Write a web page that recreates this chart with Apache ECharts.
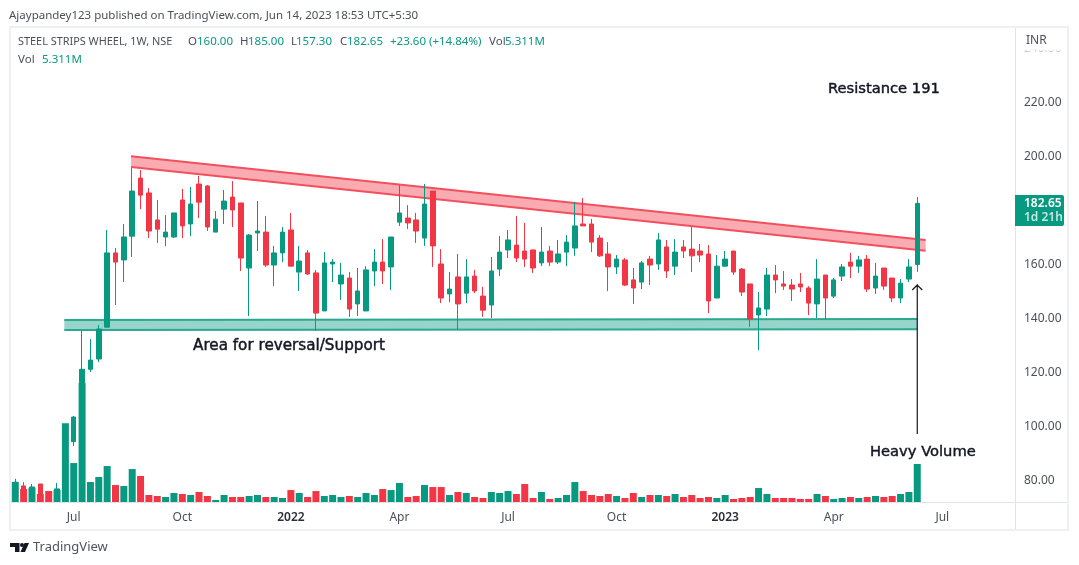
<!DOCTYPE html>
<html><head><meta charset="utf-8">
<style>html,body{margin:0;padding:0;background:#fff}#c{width:1079px;height:565px}</style>
<script src="https://cdn.jsdelivr.net/npm/echarts@6/dist/echarts.min.js"></script>
</head><body><div id="c"></div>
<script>
const opens=[75.5,78,75,78.7,75.5,74,77,94.4,103.5,121.2,125,136.8,164.3,161.7,170.5,192,186.5,176.5,170.2,170.2,183.9,175,189.8,189.1,172,180.5,185,182.8,158.7,171.7,172,159.8,164.3,172.8,157.2,164.3,156.9,142.8,160.2,152.8,155,145.4,142.8,157.6,160.9,159.1,175.7,177.2,176.5,169.8,187.2,160.2,149.1,155.4,149.4,155.7,148.3,145,158.3,165.4,167.2,165,165.4,160.6,165,160.9,164.6,166.1,175,175,169.8,163.9,159.1,161.7,154.3,153.5,162,160.2,166.5,159.4,166.5,165.7,165,163.9,147.6,159.4,165,158.3,152.8,141.3,143.5,156.1,152.8,152.4,152.8,151.3,145.4,156.1,148.3,155.7,160.9,159.4,162,151.3,158.7,155,147.6,154.6,160];
const highs=[80.6,79.4,78.7,78.7,75.8,79.1,96,103.9,135.5,132.4,137.6,172.8,166.1,175,195.7,195,188.3,183.9,178.3,179.1,188,188.7,192.8,189.4,179.8,187.6,190.9,182.8,171.3,183.5,178,166.9,173.9,179.1,166.9,165.4,158,164.6,162,160.6,157.2,158.7,159.4,165.7,169.4,170.2,189.4,182,179.1,189.8,187.2,165.7,157.2,163.9,162,158,151.7,162.8,170.6,172.8,178,175.4,165.4,173.9,166.9,169.1,170.9,183.2,184.6,176.9,170.9,168.3,163.5,162.4,158.7,161.3,163.2,171.7,169.1,169.4,169.1,173.9,167.6,167.2,163.5,165,165,158.7,152.8,149.8,158.7,159.8,157.6,154.6,156.9,152,162,156.1,155,160.2,164.3,163.2,163.5,160.6,158.7,155,154.6,162,185];
const lows=[74.5,73.5,74.5,74.5,73,73.5,76,92.8,102,120.2,123.9,136.8,145,153.5,162.8,180.5,169.8,168,166.8,169.8,169.8,170.5,177.2,172.4,172,175,173.9,157.6,140.9,165,159.1,152,160.9,159.4,150.2,156.1,135.4,142.8,153.5,146.9,140.6,140.9,142.8,152,152.8,150.6,174.3,173.1,168,166.9,159.1,145.7,146.1,135.7,145.7,149.4,140.6,140.2,155.7,162.4,160.9,159.1,156.9,159.4,159.4,160.2,159.4,163.2,174.3,164.6,162.8,150.2,156.5,152,145.4,150.9,152.4,158,155,156.1,162.4,157.2,160.9,142,147.6,159.1,156.1,148.3,136.9,128.3,140.9,149.4,150.6,146.5,149.8,141.3,140.2,139.8,147.6,153.9,155,156.9,149.8,149.1,150.6,146.1,145.7,153.5,157.3];
const closes=[79.4,74.5,77.6,75,74,76.9,94,103.5,121.2,124.6,136.1,164.3,160.9,170.2,187.2,185.7,172.4,173.1,172,179.1,174.3,182.4,183.1,173.9,176.8,183.5,180.2,162.4,170.9,172.4,159.8,164.3,172,159.4,161.3,156.5,142,160.6,160.9,156.1,143.5,150.2,158,160.9,157.6,170.2,179.1,175.4,172.4,182.4,166.9,147.6,150.9,145.4,155.4,150.2,143.1,157.6,164.6,169.1,162.4,162,158.7,164.6,160.9,163.9,168.3,174.3,174.3,168.3,163.2,159.1,162,152.4,151.3,160.6,159.8,169.1,157.6,164.6,165,163.2,163.5,146.5,159.4,162,157.2,149.8,139.8,143.9,156.1,154.3,152,150.9,151.7,145.7,154.6,147.6,154.3,159.1,159.4,161.7,150.9,155.7,152,147.6,153.1,159.1,182.65];
const volumesM=[2.79,1.81,1.95,1.12,1.53,1.67,11.0,5.44,16.6,2.79,3.49,5.02,2.37,2.23,4.6,3.63,0.98,0.84,0.70,1.26,1.12,0.98,1.40,0.84,0.28,0.98,0.70,0.70,0.84,0.98,0.70,0.70,0.56,1.67,1.26,0.70,1.53,0.84,0.98,0.70,0.84,0.70,1.26,0.98,1.81,1.67,2.65,0.70,0.84,2.37,2.09,2.09,0.98,1.40,1.26,0.70,0.56,1.40,1.26,1.53,1.12,2.51,0.56,1.40,0.42,0.56,0.98,2.79,1.53,0.98,0.84,1.12,0.84,0.56,1.26,0.70,0.98,0.98,0.84,1.12,0.70,0.98,0.56,0.70,0.56,0.98,0.42,0.56,0.70,1.95,1.12,0.56,0.56,0.56,0.42,0.42,1.12,0.84,0.42,0.56,0.70,0.56,0.70,0.84,0.70,0.84,1.12,1.40,5.311];
const xTickLabels={"2021-07-05":"Jul","2021-10-04":"Oct","2022-01-03":"2022","2022-04-04":"Apr","2022-07-04":"Jul","2022-10-03":"Oct","2023-01-02":"2023","2023-04-03":"Apr","2023-07-03":"Jul"};
const priceTicks=[80,100,120,140,160,180,200,220,240];
const resistanceTop=[[14.36,200.07],[109.5,169.07]];
const resistanceBottom=[[14.36,196.1],[109.5,165.1]];
const supportTop=[[6.37,139.44],[108.5,139.8]];
const supportBottom=[[6.37,135.7],[108.5,136]];
const arrowLine=[[108.5,97.2],[108.5,152.4]];

const categories=[];
for(let i=0,t=Date.UTC(2021,4,17);i<120;i++,t+=7*864e5)categories.push(new Date(t).toISOString().slice(0,10));

const UP='#089981',DOWN='#f23645',AX='#4c4f59',F='"Noto Sans",sans-serif';
const band=(top,bot,fill,line)=>({
  type:'custom',xAxisIndex:1,yAxisIndex:0,z:2,silent:true,clip:false,data:[[top[0][0],top[0][1]]],
  renderItem:(p,api)=>{
    const a=api.coord(top[0]),b=api.coord(top[1]),c=api.coord(bot[1]),d=api.coord(bot[0]);
    return {type:'group',children:[
      {type:'polygon',shape:{points:[a,b,c,d]},style:{fill,stroke:null}},
      {type:'line',shape:{x1:a[0],y1:a[1],x2:b[0],y2:b[1]},style:{stroke:line,lineWidth:2}},
      {type:'line',shape:{x1:d[0],y1:d[1],x2:c[0],y2:c[1]},style:{stroke:line,lineWidth:2}}
    ]};
  }});
const txt=(x,y,t,o={})=>({type:'text',x,y:y+1,z:50,silent:true,style:Object.assign({text:t,fill:AX,font:'11.5px '+F,textVerticalAlign:'middle'},o)});
const rect=(x,y,w,h,fill,z=40)=>({type:'rect',x,y,z,silent:true,shape:{width:w,height:h},style:{fill}});
const big={fill:'#131722',font:'14.7px "DejaVu Sans",sans-serif',stroke:'#131722',lineWidth:0.45};
const chart=echarts.init(document.getElementById('c'),null,{renderer:'canvas'});
chart.setOption({
  animation:false,backgroundColor:'#fff',
  grid:{left:11.1,top:28,width:1002.2,height:474,containLabel:false},
  xAxis:[
    {type:'category',data:categories,boundaryGap:true,axisLine:{show:false},axisTick:{show:false},splitLine:{show:false},
     axisLabel:{margin:10,color:AX,fontFamily:F,fontSize:12,interval:(i,v)=>xTickLabels[v]!==undefined,
       formatter:v=>{const s=xTickLabels[v]||'';return /^\d+$/.test(s)?'{b|'+s+'}':s;},
       rich:{b:{fontWeight:600,fontSize:12,fontFamily:F,color:'#2a2e39'}}}},
    {type:'value',min:0,max:120,show:false}
  ],
  yAxis:[
    {type:'value',min:72.04,max:247.6,position:'right',axisLine:{show:false},axisTick:{show:false},splitLine:{show:false},
     axisLabel:{margin:10.7,color:AX,fontFamily:F,fontSize:12,padding:[2,0,0,0],customValues:priceTicks,formatter:v=>v.toFixed(2)}},
    {type:'value',min:0,max:66.2,show:false}
  ],
  series:[
    {type:'bar',xAxisIndex:0,yAxisIndex:1,z:1,barWidth:7,silent:true,data:volumesM,
     itemStyle:{color:p=>closes[p.dataIndex]>=opens[p.dataIndex]?UP:DOWN}},
    band(supportTop,supportBottom,'rgba(8,153,129,0.42)','#2aa892'),
    band(resistanceTop,resistanceBottom,'rgba(242,54,69,0.42)','#f2505e'),
    {type:'candlestick',xAxisIndex:0,yAxisIndex:0,z:3,barWidth:5,silent:true,
     data:opens.map((o,i)=>[o,closes[i],lows[i],highs[i]]),
     itemStyle:{color:UP,color0:DOWN,borderColor:UP,borderColor0:DOWN,borderWidth:1}},
    {type:'custom',xAxisIndex:1,yAxisIndex:0,z:4,silent:true,clip:false,data:[arrowLine[0]],
     renderItem:(p,api)=>{
       const a=api.coord(arrowLine[0]),b=api.coord(arrowLine[1]);
       return {type:'polyline',shape:{points:[a,b,[b[0]-5,b[1]+5],b,[b[0]+5,b[1]+5]]},style:{stroke:'#131722',lineWidth:1.2,fill:null}};
     }}
  ],
  graphic:[
    rect(9,26,1060,2,'#eff0f5'),rect(9,26,2,505,'#eff0f5'),rect(9,529,1060,2,'#eff0f5'),rect(1067,26,2,505,'#eff0f5'),
    rect(11,502,1056,1,'#e0e3eb'),rect(1015,28,1,501,'#e0e3eb'),
    {type:'rect',x:1017,y:28,z:41,silent:true,shape:{width:49,height:26},style:{fill:new echarts.graphic.LinearGradient(0,0,0,1,[{offset:0,color:'#fff'},{offset:0.8,color:'#fff'},{offset:1,color:'rgba(255,255,255,0.45)'}])}},
    txt(1026,40,'INR',{fill:'#4c4f59',font:'12px '+F}),
    txt(9,15,'Ajaypandey123 published on TradingView.com, Jun 14, 2023 18:53 UTC+5:30'),
    txt(18,41,'STEEL STRIPS WHEEL, 1W, NSE',{font:'10.9px '+F}),
    txt(188,41,'O'),txt(197,41,'160.00',{fill:UP}),
    txt(240,41,'H'),txt(248,41,'185.00',{fill:UP}),
    txt(291,41,'L'),txt(296,41,'157.30',{fill:UP}),
    txt(340,41,'C'),txt(347,41,'182.65',{fill:UP}),
    txt(390,41,'+23.60 (+14.84%)',{fill:UP}),
    txt(489,41,'Vol'),txt(505,41,'5.311M',{fill:UP}),
    txt(18,59,'Vol'),txt(42,59,'5.311M',{fill:UP}),
    txt(828,88,'Resistance 191',big),
    txt(193,345,'Area for reversal/Support',Object.assign({},big,{font:'15.2px "DejaVu Sans",sans-serif'})),
    txt(870,451,'Heavy Volume',big),
    {type:'rect',x:1015,y:195,z:42,silent:true,shape:{width:49,height:31,r:[0,2,2,0]},style:{fill:UP}},
    txt(1024,203,'182.65',{fill:'#fff',font:'600 12px '+F}),
    txt(1024,217,'1d 21h',{fill:'#c4e8e1',font:'600 12px '+F}),
    {type:'polygon',z:50,silent:true,shape:{points:[[10,543],[19.5,543],[19.5,552],[15,552],[15,547],[10,547]]},style:{fill:'#131722'}},
    {type:'circle',z:50,silent:true,shape:{cx:22,cy:545,r:2},style:{fill:'#131722'}},
    {type:'polygon',z:50,silent:true,shape:{points:[[24.5,543],[29,543],[25,552],[20.5,552]]},style:{fill:'#131722'}},
    txt(33,546,'TradingView',{fill:'#50535e',font:'13px '+F})
  ]
});
</script></body></html>
